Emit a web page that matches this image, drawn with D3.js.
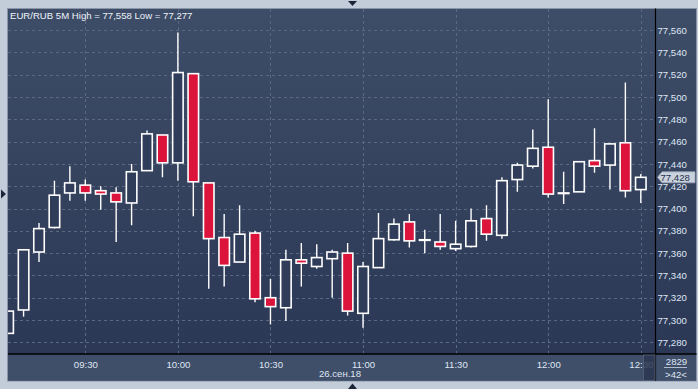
<!DOCTYPE html>
<html>
<head>
<meta charset="utf-8">
<script src="https://cdn.jsdelivr.net/npm/d3@7"></script>
<style>
  body { margin: 0; background: #c3cdd9; }
  svg { display: block; font-family: "Liberation Sans", Arial, sans-serif; }
</style>
</head>
<body>
<svg id="chart" width="698" height="389"></svg>
<script>
const title = "EUR/RUB 5M High = 77,558 Low = 77,277";
const dateLabel = "26.сен.18";
const lastPrice = 77.428;

const times = ["09:05","09:10","09:15","09:20","09:25","09:30","09:35","09:40","09:45","09:50","09:55",
  "10:00","10:05","10:10","10:15","10:20","10:25","10:30","10:35","10:40","10:45","10:50","10:55",
  "11:00","11:05","11:10","11:15","11:20","11:25","11:30","11:35","11:40","11:45","11:50","11:55",
  "12:00","12:05","12:10","12:15","12:20","12:25","12:30"];
const open  = [77.288,77.309,77.361,77.383,77.414,77.421,77.416,77.414,77.405,77.434,77.466,
  77.441,77.521,77.423,77.374,77.352,77.378,77.320,77.311,77.354,77.348,77.355,77.360,
  77.306,77.347,77.372,77.388,77.372,77.370,77.364,77.366,77.391,77.376,77.426,77.438,
  77.455,77.414,77.415,77.443,77.439,77.459,77.417];
const high  = [77.308,77.363,77.387,77.425,77.438,77.426,77.420,77.419,77.440,77.470,77.466,
  77.558,77.521,77.423,77.395,77.403,77.380,77.337,77.363,77.369,77.368,77.363,77.369,
  77.352,77.396,77.391,77.395,77.381,77.395,77.389,77.400,77.403,77.428,77.441,77.471,
  77.498,77.433,77.442,77.472,77.458,77.513,77.431];
const low   = [77.288,77.303,77.352,77.382,77.407,77.407,77.399,77.370,77.385,77.434,77.428,
  77.425,77.393,77.328,77.330,77.352,77.316,77.296,77.299,77.330,77.346,77.320,77.304,
  77.293,77.347,77.371,77.365,77.360,77.363,77.362,77.365,77.371,77.373,77.415,77.436,
  77.410,77.404,77.415,77.432,77.417,77.410,77.405];
const close = [77.308,77.363,77.382,77.412,77.423,77.414,77.413,77.406,77.433,77.467,77.441,
  77.522,77.424,77.373,77.349,77.377,77.319,77.312,77.354,77.351,77.356,77.361,77.308,
  77.348,77.373,77.386,77.371,77.372,77.366,77.368,77.389,77.377,77.425,77.439,77.454,
  77.413,77.414,77.442,77.438,77.458,77.416,77.428];

const yTicks = d3.range(77.28, 77.5601, 0.02);
const xTicks = ["09:30","10:00","10:30","11:00","11:30","12:00","12:30"];
const counter = "2829";
const counter2 = ">42<";

const svg = d3.select("#chart");
const day = t => { const [h, m] = t.split(":"); return new Date(2018, 8, 26, +h, +m); };
const candles = times.map((t, i) => ({ t: day(t), o: open[i], h: high[i], l: low[i], c: close[i] }));

const plot = { left: 8, right: 655.5, top: 9, bottom: 354 };
const x = d3.scaleTime().domain([day("09:30"), day("12:30")]).range([85.3, 640.8]);
const y = d3.scaleLinear().domain([77.28, 77.56]).range([342.3, 30.2]);
const fmt = v => d3.format(".3f")(v).replace(".", ",");
const textColor = "#dfe7f4";

// gradients
const defs = svg.append("defs");
const g1 = defs.append("linearGradient").attr("id", "bg").attr("x1", 0).attr("y1", 0).attr("x2", 0).attr("y2", 1);
g1.append("stop").attr("offset", 0).attr("stop-color", "#3e4d67");
g1.append("stop").attr("offset", 1).attr("stop-color", "#2a3654");
defs.append("clipPath").attr("id", "clip").append("rect")
  .attr("x", plot.left).attr("y", plot.top)
  .attr("width", plot.right - plot.left).attr("height", plot.bottom - plot.top);

// frame and panels
svg.append("rect").attr("x", 7.5).attr("y", 8.5).attr("width", 689).attr("height", 372.5)
  .attr("fill", "url(#bg)").attr("stroke", "#8a96a8");
svg.append("rect").attr("x", plot.left).attr("y", plot.bottom).attr("width", 688).attr("height", 26.5)
  .attr("fill", "#3f4e69");

// grid
const grid = svg.append("g").attr("clip-path", "url(#clip)")
  .attr("stroke", "#5a6882").attr("stroke-dasharray", "3,3").attr("stroke-width", 1);
grid.selectAll("line.h").data(yTicks).join("line")
  .attr("x1", plot.left).attr("x2", plot.right)
  .attr("y1", d => Math.round(y(d)) + 0.5).attr("y2", d => Math.round(y(d)) + 0.5);
grid.selectAll("line.v").data(xTicks).join("line")
  .attr("y1", plot.top).attr("y2", plot.bottom)
  .attr("x1", d => Math.round(x(day(d))) + 0.5).attr("x2", d => Math.round(x(day(d))) + 0.5);

// candles
const bw = 10.5;
const cg = svg.append("g").attr("clip-path", "url(#clip)");
const cs = cg.selectAll("g").data(candles).join("g");
cs.append("line")
  .attr("x1", d => x(d.t)).attr("x2", d => x(d.t))
  .attr("y1", d => y(d.h)).attr("y2", d => y(d.l))
  .attr("stroke", "#ffffff").attr("stroke-width", 1.4);
cs.append("rect")
  .attr("x", d => x(d.t) - bw / 2)
  .attr("y", d => y(Math.max(d.o, d.c)))
  .attr("width", bw)
  .attr("height", d => Math.max(0.6, Math.abs(y(d.o) - y(d.c))))
  .attr("fill", d => d.c < d.o ? "#dc143c" : "#2f3c5a")
  .attr("stroke", "#ffffff").attr("stroke-width", 1.6);

// separators
svg.append("line").attr("x1", plot.right).attr("x2", plot.right).attr("y1", 8.5).attr("y2", 381)
  .attr("stroke", "#000").attr("stroke-width", 1.2);
svg.append("line").attr("x1", plot.left).attr("x2", 696.5).attr("y1", plot.bottom).attr("y2", plot.bottom)
  .attr("stroke", "#000").attr("stroke-width", 1.4);

// right axis
const yAxis = svg.append("g").attr("transform", `translate(${plot.right + 2},0)`)
  .call(d3.axisRight(y).tickValues(yTicks).tickSize(0).tickPadding(0).tickFormat(fmt));
yAxis.select(".domain").remove();
yAxis.selectAll("text").attr("fill", textColor).attr("font-size", "9.6px")
  .attr("font-family", "Liberation Sans, Arial, sans-serif");

// last price tag
const ly = y(lastPrice);
svg.append("path")
  .attr("d", `M657.5,${ly} L662,${ly - 5.5} L695,${ly - 5.5} L695,${ly + 5.5} L662,${ly + 5.5} Z`)
  .attr("fill", "#c9d1dd").attr("stroke", "#9aa6b8").attr("stroke-width", 0.8);
svg.append("text").attr("x", 660.5).attr("y", ly + 3.4).attr("font-size", "9.6px")
  .attr("fill", "#24304a").text(fmt(lastPrice));

// bottom axis
const xAxis = svg.append("g").attr("transform", `translate(0,${plot.bottom})`)
  .call(d3.axisBottom(x).tickValues(xTicks.map(day)).tickSize(0).tickPadding(7)
    .tickFormat(d3.timeFormat("%H:%M")));
xAxis.select(".domain").remove();
xAxis.selectAll("text").attr("fill", textColor).attr("font-size", "9.6px")
  .attr("font-family", "Liberation Sans, Arial, sans-serif");
svg.append("text").attr("x", 340).attr("y", 377).attr("text-anchor", "middle")
  .attr("font-size", "9.6px").attr("fill", textColor).text(dateLabel);
svg.append("rect").attr("x", 643.5).attr("y", 355).attr("width", 11.5).attr("height", 25.5)
  .attr("fill", "#2b3750").attr("fill-opacity", 0.85).attr("stroke", "#56637b").attr("stroke-width", 0.8);

// counter box
svg.append("text").attr("x", 676.5).attr("y", 365).attr("text-anchor", "middle")
  .attr("font-size", "9.6px").attr("fill", textColor).text(counter);
svg.append("line").attr("x1", 664).attr("x2", 687).attr("y1", 367.5).attr("y2", 367.5)
  .attr("stroke", "#cfd8e6").attr("stroke-width", 0.8);
svg.append("text").attr("x", 676).attr("y", 377.8).attr("text-anchor", "middle")
  .attr("font-size", "9.6px").attr("fill", textColor).text(counter2);

// title
svg.append("text").attr("x", 10).attr("y", 18.5).attr("font-size", "9.6px")
  .attr("fill", "#eef3fb").text(title);

// markers
svg.append("path").attr("d", "M348,1 L357,1 L352.5,6 Z").attr("fill", "#1c2538");
svg.append("path").attr("d", "M348,389 L357,389 L352.5,383.5 Z").attr("fill", "#1c2538");
svg.append("path").attr("d", "M1,189.5 L6,194 L1,198.5 Z").attr("fill", "#1c2538");
</script>
</body>
</html>
